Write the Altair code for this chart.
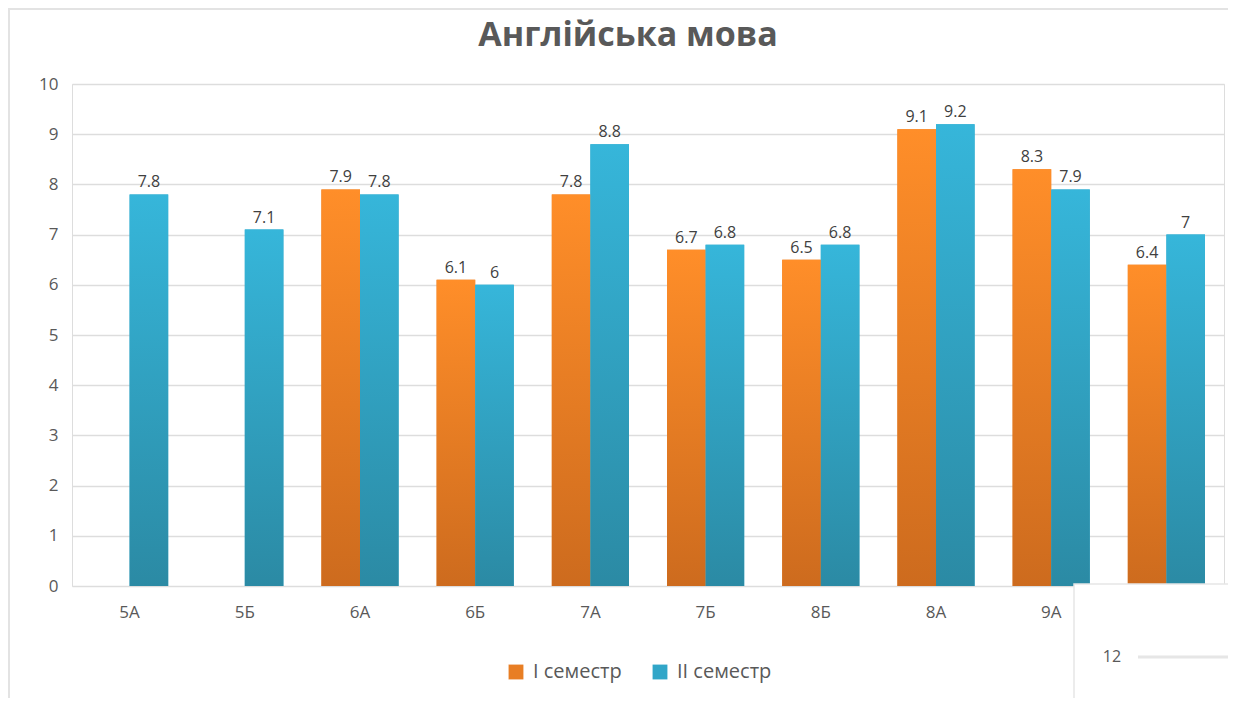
import altair as alt
import pandas as pd

classes = ["5А", "5Б", "6А", "6Б", "7А", "7Б", "8Б", "8А", "9А", "9Б"]
sem1 = [None, None, 7.9, 6.1, 7.8, 6.7, 6.5, 9.1, 8.3, 6.4]
sem2 = [7.8, 7.1, 7.8, 6.0, 8.8, 6.8, 6.8, 9.2, 7.9, 7.0]
series_names = ["I семестр", "II семестр"]
y_ticks = [0, 1, 2, 3, 4, 5, 6, 7, 8, 9, 10]
title_text = ["Англійська мова"]
overlay_label = ["12"]

rows = []
for c, a, b in zip(classes, sem1, sem2):
    if a is not None:
        rows.append({"cls": c, "series": series_names[0], "value": a})
    if b is not None:
        rows.append({"cls": c, "series": series_names[1], "value": b})
df = pd.DataFrame(rows)

FONT = "Open Sans"
W, H = 1152, 502

xenc = alt.X("cls:N", sort=classes, scale=alt.Scale(domain=classes, paddingInner=0.33, paddingOuter=0.165),
             axis=alt.Axis(title=None, labelAngle=0, labelFontSize=17, labelColor="#595959",
                           labelFont=FONT, labelPadding=18, ticks=False, domain=False))
xoff = alt.XOffset("series:N", scale=alt.Scale(domain=series_names))
yenc = alt.Y("value:Q", scale=alt.Scale(domain=[0, 10], nice=False),
             axis=alt.Axis(title=None, values=y_ticks, labelFontSize=17, labelColor="#595959",
                           labelFont=FONT, labelPadding=14, ticks=False, domain=False,
                           gridColor="#DDDDDD", gridWidth=1.5))

def grad(top, bottom):
    return alt.Gradient(gradient="linear", x1=0, x2=0, y1=0, y2=1,
                        stops=[alt.GradientStop(color=top, offset=0),
                               alt.GradientStop(color=bottom, offset=1)])

base = alt.Chart(df)

legend_bars = base.mark_bar().encode(
    x=xenc, xOffset=xoff, y=yenc,
    color=alt.Color("series:N", scale=alt.Scale(domain=series_names, range=["#E87E24", "#31A6C8"]),
                    legend=alt.Legend(title=None, orient="none", direction="horizontal",
                                      legendX=434, legendY=578, symbolType="square",
                                      symbolSize=220, symbolStrokeWidth=0, labelFontSize=20,
                                      labelFont=FONT, labelColor="#595959", labelOffset=7,
                                      columnPadding=28)),
)

bars1 = base.transform_filter(alt.datum.series == series_names[0]).mark_bar(
    fill=grad("#FF8E29", "#CD6B1E")).encode(x=xenc, xOffset=xoff, y=yenc)
bars2 = base.transform_filter(alt.datum.series == series_names[1]).mark_bar(
    fill=grad("#36B6DA", "#2B8AA4")).encode(x=xenc, xOffset=xoff, y=yenc)

labels = base.mark_text(dy=-12, fontSize=16, font=FONT, color="#404040").encode(
    x=xenc, xOffset=xoff, y=yenc, text=alt.Text("value:Q", format=".1~f"))

one = alt.Chart(pd.DataFrame({"t": overlay_label}))
title_layer = alt.Chart(pd.DataFrame({"t": title_text})).mark_text(
    fontSize=34, font=FONT, fontWeight="bold", color="#595959", align="center",
    baseline="alphabetic").encode(x=alt.value(556), y=alt.value(-38), text="t:N")
top_line = one.mark_rule(stroke="#E3E3E3", strokeWidth=2).encode(
    x=alt.value(-64), x2=alt.value(W + 10), y=alt.value(-75))
left_line = one.mark_rule(stroke="#E3E3E3", strokeWidth=2).encode(
    x=alt.value(-63), y=alt.value(-76), y2=alt.value(H + 120))
overlay = one.mark_rect(fill="white", stroke="#E6E6E6", strokeWidth=1.5, clip=False).encode(
    x=alt.value(1002), x2=alt.value(1175), y=alt.value(500), y2=alt.value(640))
overlay_text = one.mark_text(fontSize=16, font=FONT, color="#595959", align="center").encode(
    x=alt.value(1040), y=alt.value(573), text="t:N")
overlay_line = one.mark_rule(stroke="#E6E6E6", strokeWidth=3).encode(
    x=alt.value(1066), x2=alt.value(1175), y=alt.value(573))

chart = alt.layer(top_line, left_line, title_layer, legend_bars, bars1, bars2, labels,
                  overlay, overlay_text, overlay_line).properties(
    width=W, height=H,
    autosize=alt.AutoSizeParams(type="none"),
    padding={"left": 64, "top": 76, "right": 4, "bottom": 112},
).configure_view(stroke=None).configure(background="white")

chart.save("out.html", embed_options={"renderer": "svg", "actions": False})
